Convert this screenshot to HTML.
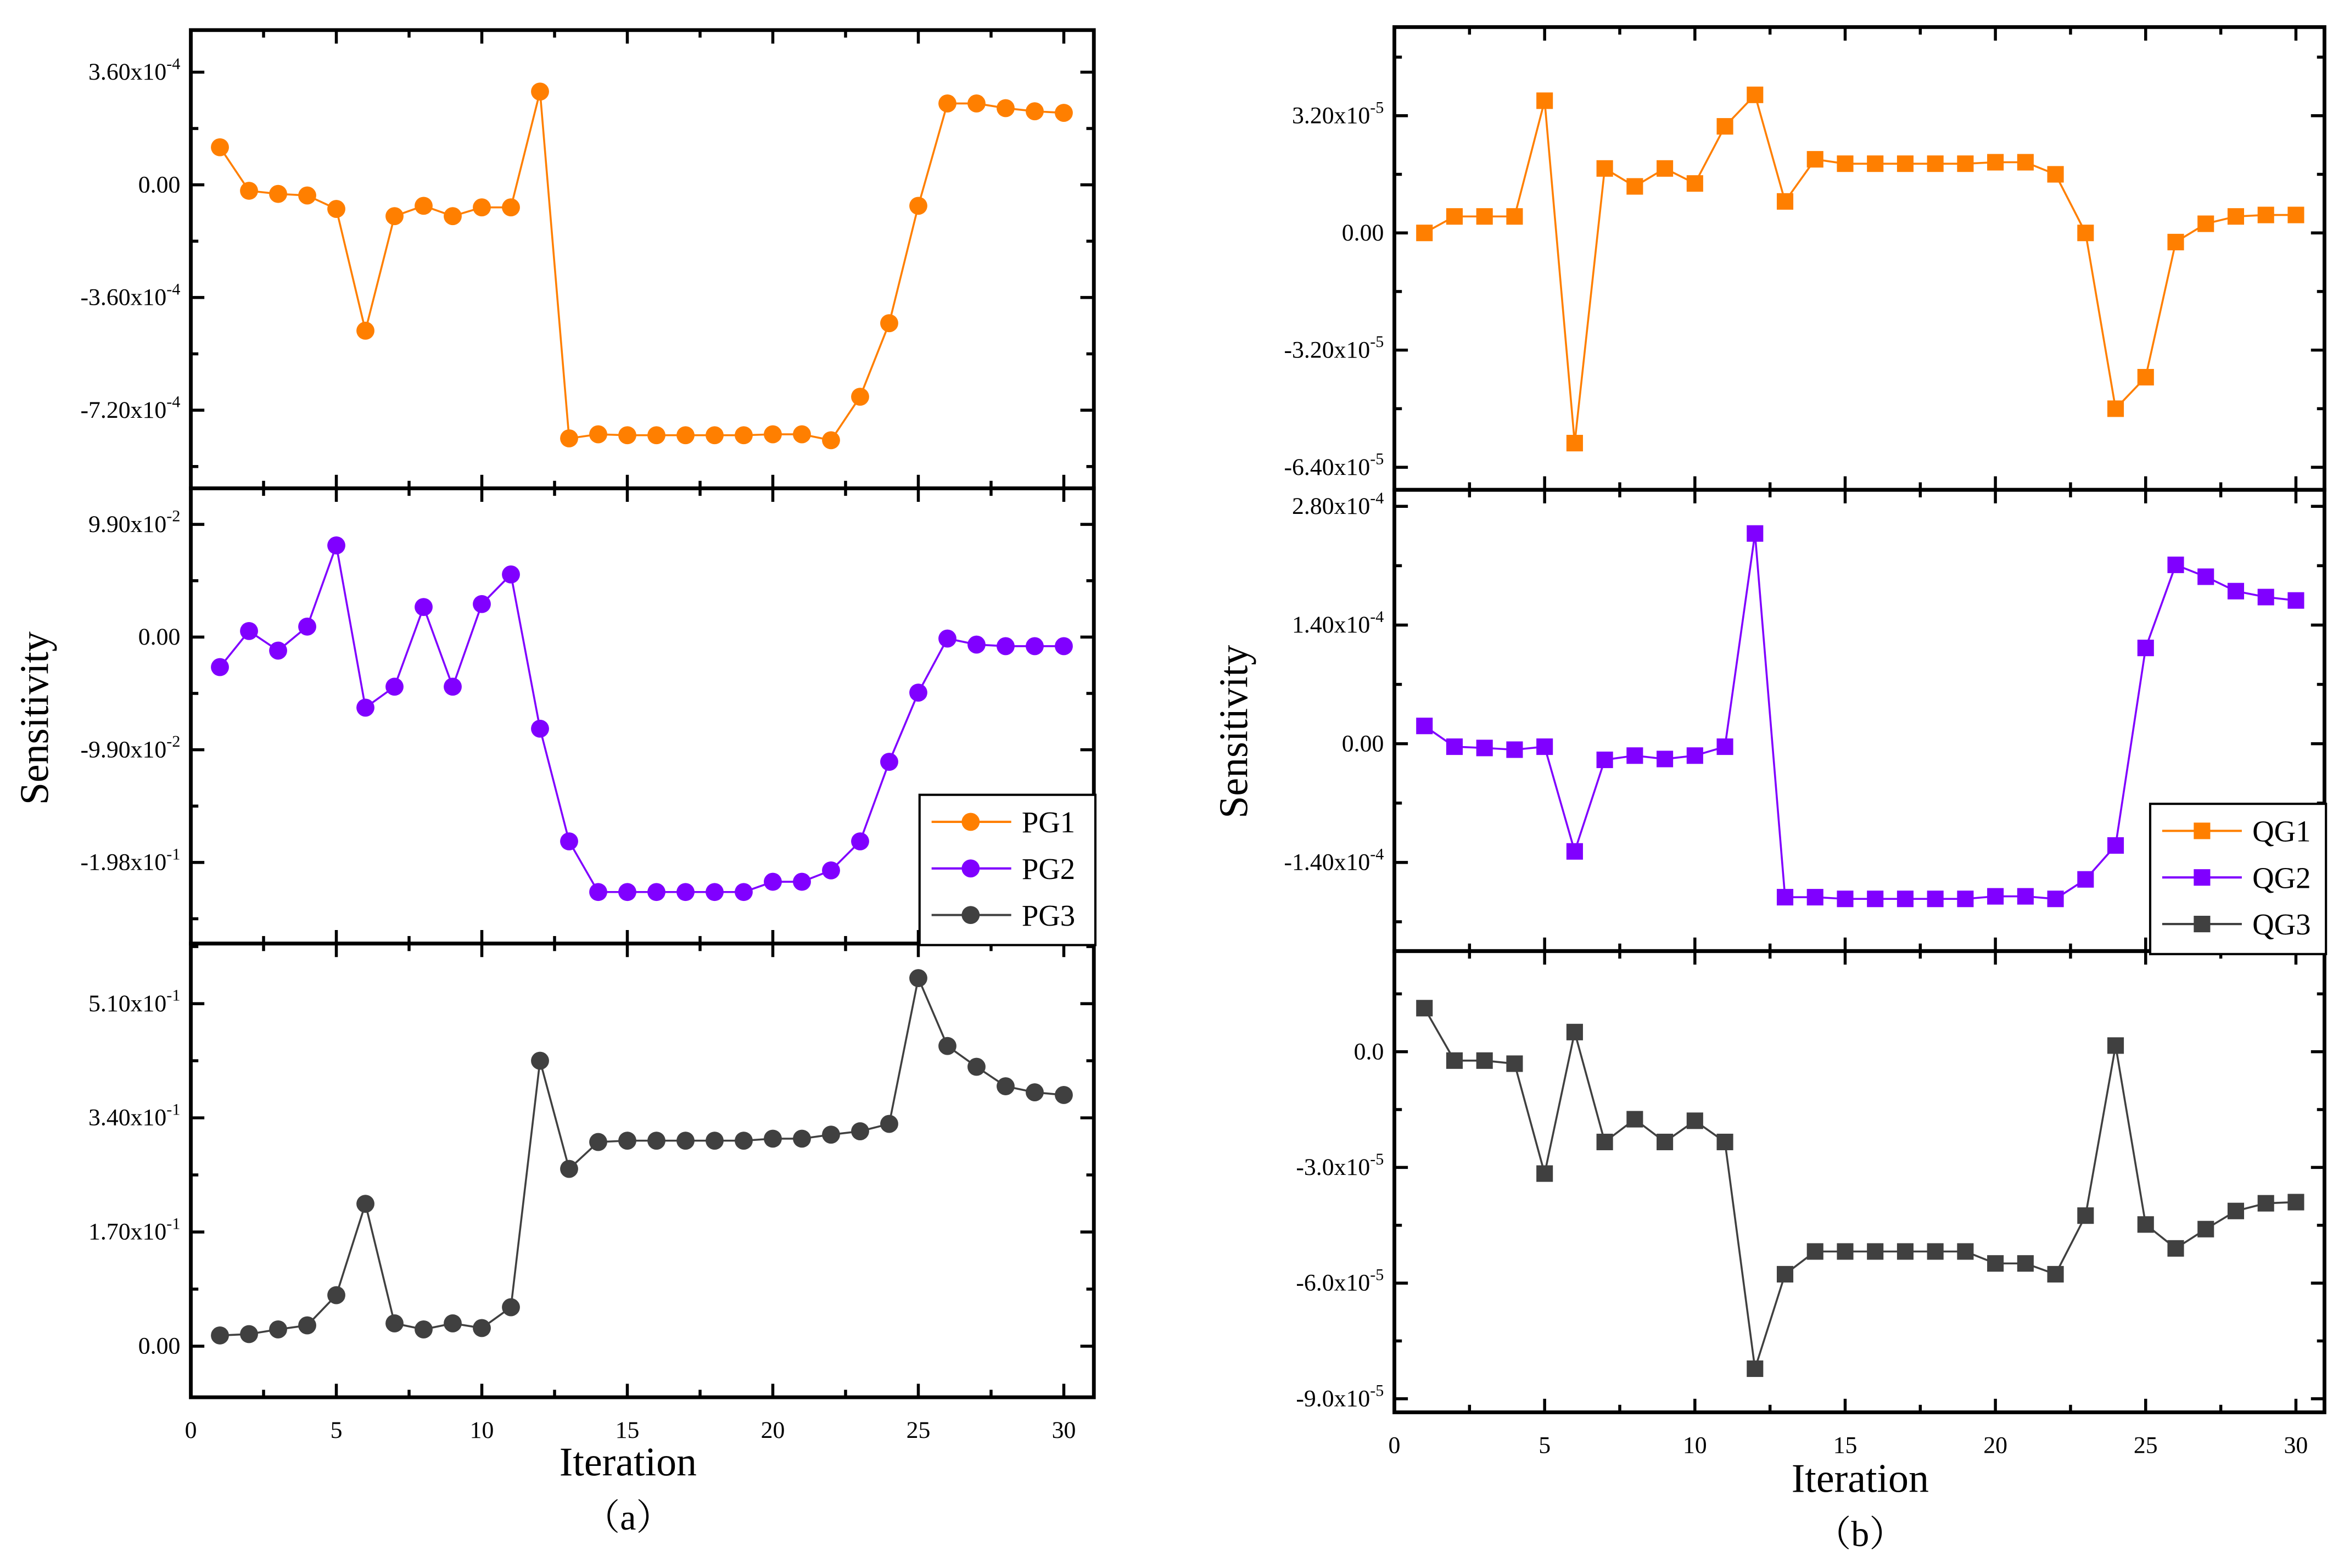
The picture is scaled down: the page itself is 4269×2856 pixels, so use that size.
<!DOCTYPE html>
<html><head><meta charset="utf-8"><style>
html,body{margin:0;padding:0;background:#fff;}
svg{display:block;}
text{font-family:"Liberation Serif","Noto Serif CJK SC",serif;fill:#000;}
</style></head><body>
<svg id="chart" width="4269" height="2856" viewBox="0 0 1560 1043.6" xmlns="http://www.w3.org/2000/svg"></svg>
<script>
const iterations = [1,2,3,4,5,6,7,8,9,10,11,12,13,14,15,16,17,18,19,20,21,22,23,24,25,26,27,28,29,30];
const pg1 = [1.2,-0.19,-0.29,-0.34,-0.77,-4.66,-1.0,-0.67,-1.0,-0.72,-0.72,2.98,-8.1,-7.97,-8.0,-8.0,-8.0,-8.0,-8.0,-7.97,-7.97,-8.16,-6.77,-4.42,-0.67,2.6,2.6,2.45,2.35,2.3];
const pg2 = [-2.64,0.53,-1.19,0.92,8.05,-6.2,-4.36,2.64,-4.36,2.9,5.5,-8.05,-17.95,-22.4,-22.4,-22.4,-22.4,-22.4,-22.4,-21.5,-21.5,-20.5,-17.95,-10.96,-4.88,-0.13,-0.66,-0.8,-0.8,-0.8];
const pg3 = [0.16,0.18,0.25,0.31,0.76,2.12,0.34,0.25,0.34,0.27,0.58,4.25,2.64,3.04,3.06,3.06,3.06,3.06,3.06,3.09,3.09,3.15,3.2,3.31,5.48,4.47,4.16,3.87,3.78,3.74];
const qg1 = [0,0.45,0.45,0.45,3.61,-5.74,1.76,1.27,1.76,1.35,2.91,3.77,0.86,2.01,1.89,1.89,1.89,1.89,1.89,1.93,1.93,1.6,0,-4.8,-3.94,-0.25,0.25,0.45,0.49,0.49];
const qg2 = [0.21,-0.035,-0.05,-0.07,-0.035,-1.27,-0.19,-0.14,-0.18,-0.14,-0.035,2.48,-1.81,-1.81,-1.83,-1.83,-1.83,-1.83,-1.83,-1.8,-1.8,-1.83,-1.6,-1.2,1.13,2.11,1.97,1.8,1.73,1.69];
const qg3 = [1.13,-0.23,-0.23,-0.31,-3.16,0.51,-2.34,-1.75,-2.34,-1.79,-2.34,-8.22,-5.77,-5.18,-5.18,-5.18,-5.18,-5.18,-5.18,-5.49,-5.49,-5.77,-4.25,0.16,-4.48,-5.1,-4.6,-4.13,-3.93,-3.9];
const xTicks = [0,5,10,15,20,25,30];
const pg1Ticks = [3.6,0,-3.6,-7.2];
const pg1Labels = [["3.60x10","-4"],["0.00",""],["-3.60x10","-4"],["-7.20x10","-4"]];
const pg2Ticks = [9.9,0,-9.9,-19.8];
const pg2Labels = [["9.90x10","-2"],["0.00",""],["-9.90x10","-2"],["-1.98x10","-1"]];
const pg3Ticks = [5.1,3.4,1.7,0];
const pg3Labels = [["5.10x10","-1"],["3.40x10","-1"],["1.70x10","-1"],["0.00",""]];
const qg1Ticks = [3.2,0,-3.2,-6.4];
const qg1Labels = [["3.20x10","-5"],["0.00",""],["-3.20x10","-5"],["-6.40x10","-5"]];
const qg2Ticks = [2.8,1.4,0,-1.4];
const qg2Labels = [["2.80x10","-4"],["1.40x10","-4"],["0.00",""],["-1.40x10","-4"]];
const qg3Ticks = [0,-3,-6,-9];
const qg3Labels = [["0.0",""],["-3.0x10","-5"],["-6.0x10","-5"],["-9.0x10","-5"]];

const NS="http://www.w3.org/2000/svg";
const svg=document.getElementById('chart');
function mk(tag,attrs,parent){const e=document.createElementNS(NS,tag);for(const k in attrs)e.setAttribute(k,attrs[k]);(parent||svg).appendChild(e);return e;}

function panel(cfg){
  const g=mk('g',{});
  
  
  const sx=v=>cfg.x0+(v-0)*(cfg.x30-cfg.x0)/30;
  const sy=v=>cfg.yA+(v-cfg.vA)*(cfg.yB-cfg.yA)/(cfg.vB-cfg.vA);
  for(let t=0;t<=30;t+=2.5){
    const len=(t%5===0)?9:5;
    const xx=sx(t);
    mk('line',{x1:xx,x2:xx,y1:cfg.top,y2:cfg.top+len,stroke:'#000','stroke-width':2},g);
    mk('line',{x1:xx,x2:xx,y1:cfg.bot,y2:cfg.bot-len,stroke:'#000','stroke-width':2},g);
  }
  const step=cfg.ticks[0]-cfg.ticks[1];
  const tmin=Math.min(...cfg.ticks)-step, tmax=Math.max(...cfg.ticks)+step;
  for(let t=tmin;t<=tmax+1e-9;t+=step/2){
    const yy=sy(t); if(yy<cfg.top+2||yy>cfg.bot-2)continue;
    const major=Math.abs(((t-cfg.ticks[0])/step)-Math.round((t-cfg.ticks[0])/step))<1e-6;
    const len=major?9:5;
    mk('line',{x1:cfg.left,x2:cfg.left+len,y1:yy,y2:yy,stroke:'#000','stroke-width':2},g);
    mk('line',{x1:cfg.right,x2:cfg.right-len,y1:yy,y2:yy,stroke:'#000','stroke-width':2},g);
  }
  cfg.ticks.forEach((t,i)=>{
    const tx=mk('text',{x:cfg.left-7,y:sy(t)+5,'text-anchor':'end','font-size':16},g);
    
    
    tx.appendChild(document.createTextNode(cfg.labels[i][0]));
    if(cfg.labels[i][1]){const s=mk('tspan',{dy:-7,'font-size':11},tx);s.textContent=cfg.labels[i][1];}
  });
  mk('rect',{x:cfg.left,y:cfg.top,width:cfg.right-cfg.left,height:cfg.bot-cfg.top,fill:'none',stroke:'#000','stroke-width':2.5},g);
  const pts=iterations.map((it,i)=>sx(it)+','+sy(cfg.data[i])).join(' ');
  const pl=mk('polyline',{points:pts,fill:'none',stroke:cfg.color,'stroke-width':1.3},g);
  
  
  iterations.forEach((it,i)=>{
    let m;
    if(cfg.square) m=mk('rect',{x:sx(it)-5.5,y:sy(cfg.data[i])-5.5,width:11,height:11,fill:cfg.color},g);
    else m=mk('circle',{cx:sx(it),cy:sy(cfg.data[i]),r:6,fill:cfg.color},g);
    
    
  });
  return sx;
}
const orange='#ff7f00',purple='#8000ff',dark='#404040';
const L={left:127,right:728,x0:127,x30:708};
panel(Object.assign({},L,{name:'pg1-panel',series:'pg1',top:20,bot:325,vA:0,yA:123,vB:3.6,yB:48,ticks:pg1Ticks,labels:pg1Labels,data:pg1,color:orange}));
panel(Object.assign({},L,{name:'pg2-panel',series:'pg2',top:325,bot:628,vA:0,yA:424,vB:9.9,yB:349,ticks:pg2Ticks,labels:pg2Labels,data:pg2,color:purple}));
const sxL=panel(Object.assign({},L,{name:'pg3-panel',series:'pg3',top:628,bot:930,vA:0,yA:896,vB:1.7,yB:820,ticks:pg3Ticks,labels:pg3Labels,data:pg3,color:dark}));
const R={left:928,right:1547,x0:928,x30:1528};
panel(Object.assign({},R,{name:'qg1-panel',series:'qg1',top:18,bot:326,vA:0,yA:155,vB:3.2,yB:77,ticks:qg1Ticks,labels:qg1Labels,data:qg1,color:orange,square:true}));
panel(Object.assign({},R,{name:'qg2-panel',series:'qg2',top:326,bot:633,vA:0,yA:495,vB:1.4,yB:416,ticks:qg2Ticks,labels:qg2Labels,data:qg2,color:purple,square:true}));
const sxR=panel(Object.assign({},R,{name:'qg3-panel',series:'qg3',top:633,bot:940,vA:0,yA:700,vB:-3,yB:777,ticks:qg3Ticks,labels:qg3Labels,data:qg3,color:dark,square:true}));

xTicks.forEach(t=>{
  let e=mk('text',{x:sxL(t),y:957,'text-anchor':'middle','font-size':16});e.textContent=t;
  
  
  e=mk('text',{x:sxR(t),y:967,'text-anchor':'middle','font-size':16});e.textContent=t;
  
  
});

function legend(x,y,names,square,nm){
  const g=mk('g',{});
  
  
  mk('rect',{x:x,y:y,width:117,height:100,fill:'#fff',stroke:'#000','stroke-width':1.5},g);
  const cols=[orange,purple,dark];
  names.forEach((n,i)=>{
    const yy=y+18+i*31;
    mk('line',{x1:x+8,x2:x+61,y1:yy,y2:yy,stroke:cols[i],'stroke-width':1.5},g);
    if(square) mk('rect',{x:x+29,y:yy-5.5,width:11,height:11,fill:cols[i]},g);
    else mk('circle',{cx:x+34,cy:yy,r:6,fill:cols[i]},g);
    const t=mk('text',{x:x+68,y:yy+7,'font-size':20},g);t.textContent=n;
    
    
  });
}
legend(612,529,['PG1','PG2','PG3'],false,'legend-left');
legend(1431,535,['QG1','QG2','QG3'],true,'legend-right');
</script>
<svg style="position:absolute;left:0;top:0" width="4269" height="2856" viewBox="0 0 1560 1043.6" xmlns="http://www.w3.org/2000/svg">
<text x="418" y="982" text-anchor="middle" font-size="27">Iteration</text>
<text x="418" y="1018" text-anchor="middle" font-size="24">（a）</text>
<text x="1238" y="993" text-anchor="middle" font-size="27">Iteration</text>
<text x="1238" y="1029" text-anchor="middle" font-size="24">（b）</text>
<text transform="translate(32,478) rotate(-90)" text-anchor="middle" font-size="27">Sensitivity</text>
<text transform="translate(830,487) rotate(-90)" text-anchor="middle" font-size="27">Sensitivity</text>
</svg>
</body></html>
